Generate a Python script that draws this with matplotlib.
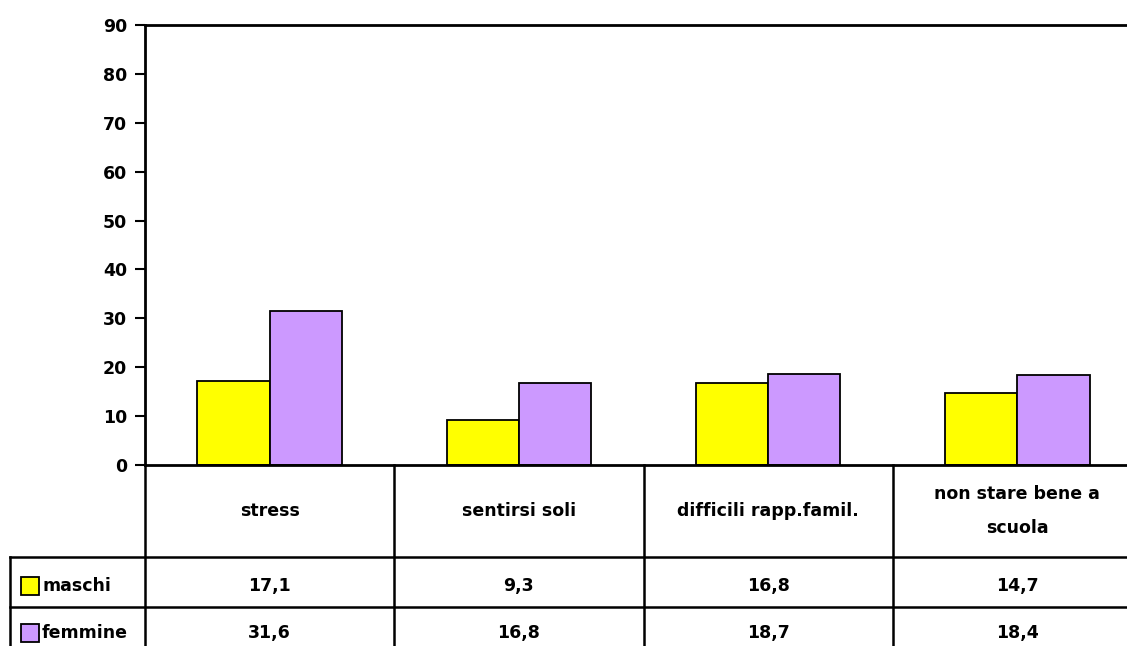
import matplotlib.pyplot as plt
import numpy as np

categories = ["stress", "sentirsi soli", "difficili rapp.famil.", "non stare bene a\nscuola"]
maschi = [17.1, 9.3, 16.8, 14.7]
femmine = [31.6, 16.8, 18.7, 18.4]
series_names = ["maschi", "femmine"]
series_colors = ["#FFFF00", "#CC99FF"]
yticks = list(range(0, 100, 10))

plt.rcParams['font.family'] = ['DejaVu Sans']
plt.rcParams['font.weight'] = 'bold'
fs = 12.5

W, H = 1127, 646
fig = plt.figure(figsize=(W / 100, H / 100), dpi=100)

# plot area in pixels: left 145, right 1142 (clipped), top 25, bottom 465
ax = fig.add_axes([145 / W, 1 - 465 / H, (1142 - 145) / W, 440 / H])
x = np.arange(len(categories))
bw = 0.29
ax.bar(x - bw / 2, maschi, bw, color=series_colors[0], edgecolor="black", linewidth=1.3)
ax.bar(x + bw / 2, femmine, bw, color=series_colors[1], edgecolor="black", linewidth=1.3)
ax.set_xlim(-0.5, len(categories) - 0.5)
ax.set_ylim(0, 90)
ax.set_yticks(yticks)
ax.set_yticklabels([str(v) for v in yticks], fontsize=fs, fontweight='bold')
ax.tick_params(axis='y', direction='out', length=7, width=1.5, pad=6)
ax.set_xticks([])
for s in ax.spines.values():
    s.set_linewidth(2)
ax.spines['right'].set_visible(False)

# overlay in pixel coordinates for the data table
ov = fig.add_axes([0, 0, 1, 1], zorder=5)
ov.set_xlim(0, W)
ov.set_ylim(H, 0)
ov.axis('off')
ov.patch.set_alpha(0)

def to_px(xd):
    xp, _ = ax.transData.transform((xd, 0))
    return xp * W / fig.bbox.width

edges = [to_px(v - 0.5) for v in range(len(categories) + 1)]
centers = [to_px(v) for v in x]
lw = 1.8
# verticals
for e in edges[:-1]:
    ov.plot([e, e], [465, H + 5], color="black", lw=lw, clip_on=False)
ov.plot([10, 10], [557, H + 5], color="black", lw=lw)
# horizontals
for yy in [557, 607]:
    ov.plot([10, W + 5], [yy, yy], color="black", lw=lw)

for c, lab in zip(centers, categories):
    ov.text(c, 511, lab, ha='center', va='center', fontsize=fs, fontweight='bold',
            linespacing=2.2)

row_y = [586, 633]
for ry, name, col, vals in zip(row_y, series_names, series_colors, [maschi, femmine]):
    ov.add_patch(plt.Rectangle((21, ry - 9), 18, 18, facecolor=col, edgecolor="black", lw=1.3))
    ov.text(42, ry, name, ha='left', va='center', fontsize=fs, fontweight='bold')
    for c, v in zip(centers, vals):
        ov.text(c, ry, f"{v:.1f}".replace('.', ','), ha='center', va='center',
                fontsize=fs, fontweight='bold')

fig.savefig("out.png", dpi=100)
